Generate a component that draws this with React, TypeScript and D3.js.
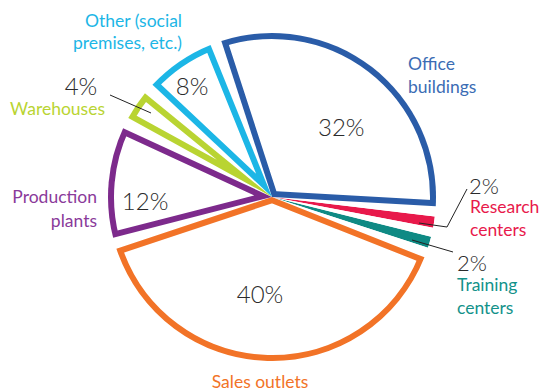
import React from 'react';
import * as d3 from 'd3';

// chart data
const categories = [
  'Office buildings',
  'Research centers',
  'Training centers',
  'Sales outlets',
  'Production plants',
  'Warehouses',
  'Other (social premises, etc.)',
];
const shares = [32, 2, 2, 40, 12, 4, 8];
const colors = ['#2a5ca8', '#e8194b', '#0f8a84', '#f27327', '#7d2a8c', '#b9d432', '#1cb6e6'];
const labelColors = ['#3b6cb4', '#e8194b', '#13928a', '#f27327', '#8a3a9a', '#b9d432', '#1cb6e6'];
const labelLines = [
  ['Office', 'buildings'],
  ['Research', 'centers'],
  ['Training', 'centers'],
  ['Sales outlets'],
  ['Production', 'plants'],
  ['Warehouses'],
  ['Other (social', 'premises, etc.)'],
];

const W = 544;
const H = 392;
const deg = Math.PI / 180;

export default function App() {
  const cx = 272;
  const cy = 197;
  const R = 164;
  const stroke = 6;

  const pie = d3.pie<number>().sort(null).startAngle(-20 * deg).endAngle(340 * deg);
  const arcs = pie(shares);

  const wedge = d3.arc<any>().innerRadius(0).outerRadius(R);
  const padFor = (i: number) => (shares[i] <= 2 ? 1.6 : 2) * deg;
  const sliceD = (i: number) =>
    wedge({ startAngle: arcs[i].startAngle + padFor(i), endAngle: arcs[i].endAngle - padFor(i) }) || '';

  // label placement (angle in degrees clockwise from top, radius from centre)
  const inside: Record<number, [number, number]> = {
    0: [45, 98],
    3: [187, 98],
    4: [268, 127],
    6: [324, 136],
  };
  const polar = (a: number, r: number) => [cx + r * Math.sin(a * deg), cy - r * Math.cos(a * deg)];

  const font = 'Lato, "Open Sans", sans-serif';
  const lfs = 17.5;

  return (
    <svg width={W} height={H} style={{ position: 'absolute', left: 0, top: 0, background: '#fff' }}>
      <defs>
        {arcs.map((_, i) => (
          <clipPath id={`clip-${i}`} key={i}>
            <path d={sliceD(i)} />
          </clipPath>
        ))}
      </defs>
      <g transform={`translate(${cx},${cy})`}>
        {arcs.map((_, i) => {
          const small = shares[i] <= 2;
          return (
            <path
              key={categories[i]}
              d={sliceD(i)}
              fill={small ? colors[i] : '#fff'}
              stroke={small ? 'none' : colors[i]}
              strokeWidth={stroke * 2}
              clipPath={`url(#clip-${i})`}
            />
          );
        })}
      </g>

      {/* percentages inside the big slices */}
      {Object.entries(inside).map(([k, [ang, r]]) => {
        const [x, y] = polar(ang, r);
        return (
          <text key={k} x={x} y={y} dy="0.35em" textAnchor="middle" fontFamily={font}
            fontWeight={300} fontSize={24} fill="#2b2b2b">
            {shares[+k]}%
          </text>
        );
      })}

      {/* Other */}
      {labelLines[6].map((t, j) => (
        <text key={t} x={182} y={21 + j * 22} dy="0.35em" textAnchor="end" fontFamily={font} fontSize={lfs} fill={labelColors[6]}>{t}</text>
      ))}

      {/* Warehouses */}
      <text x={81} y={87} dy="0.35em" textAnchor="middle" fontFamily={font} fontWeight={300}
        fontSize={24} fill="#2b2b2b">{shares[5]}%</text>
      <line x1={110} y1={95} x2={151} y2={113} stroke="#222" strokeWidth={1} />
      <text x={105} y={109} dy="0.35em" textAnchor="end" fontFamily={font} fontSize={lfs} fill={labelColors[5]}>
        {labelLines[5][0]}
      </text>

      {/* Office */}
      {labelLines[0].map((t, j) => (
        <text key={t} x={408} y={64 + j * 23} dy="0.35em" fontFamily={font} fontSize={lfs} fill={labelColors[0]}>{t}</text>
      ))}

      {/* Research */}
      <text x={469} y={186} dy="0.35em" fontFamily={font} fontWeight={300} fontSize={22} fill="#2b2b2b">{shares[1]}%</text>
      <polyline points="467,189 447,227 419,223" fill="none" stroke="#222" strokeWidth={1} />
      {labelLines[1].map((t, j) => (
        <text key={t} x={470} y={207 + j * 23} dy="0.35em" fontFamily={font} fontSize={lfs} fill={labelColors[1]}>{t}</text>
      ))}

      {/* Training */}
      <text x={457} y={263} dy="0.35em" fontFamily={font} fontWeight={300} fontSize={22} fill="#2b2b2b">{shares[2]}%</text>
      <line x1={453} y1={252} x2={412} y2={240} stroke="#222" strokeWidth={1} />
      {labelLines[2].map((t, j) => (
        <text key={t} x={457} y={285 + j * 23} dy="0.35em" fontFamily={font} fontSize={lfs} fill={labelColors[2]}>{t}</text>
      ))}

      {/* Production */}
      {labelLines[4].map((t, j) => (
        <text key={t} x={97} y={197 + j * 24} dy="0.35em" textAnchor="end" fontFamily={font} fontSize={lfs} fill={labelColors[4]}>{t}</text>
      ))}

      {/* Sales */}
      <text x={260} y={382} dy="0.35em" textAnchor="middle" fontFamily={font} fontSize={lfs} fill={labelColors[3]}>
        {labelLines[3][0]}
      </text>
    </svg>
  );
}
